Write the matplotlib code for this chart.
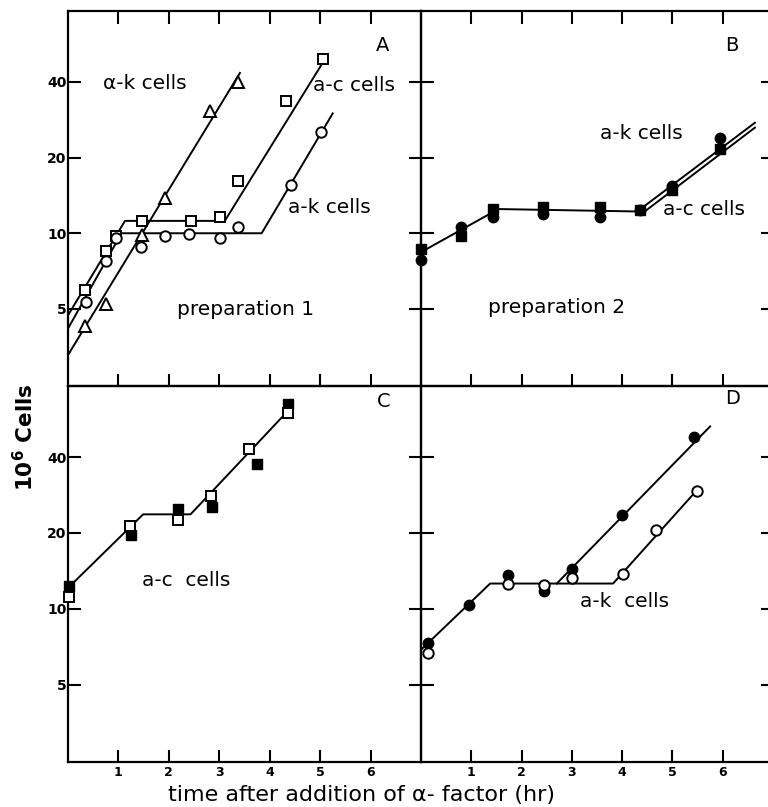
import matplotlib
matplotlib.use("Agg")
import matplotlib.pyplot as plt

# ---------------- data ----------------
# Panel A (preparation 1)
a_tri_x = [0.33, 0.76, 1.46, 1.93, 2.81, 3.38]
a_tri_y = [4.27, 5.25, 9.8, 13.8, 30.6, 39.9]
a_tri_fit_x = [0.0, 3.41]
a_tri_fit_y = [3.28, 43.4]

a_sq_x = [0.33, 0.76, 0.96, 1.46, 2.43, 3.01, 3.38, 4.32, 5.05]
a_sq_y = [5.93, 8.49, 9.73, 11.16, 11.16, 11.64, 16.07, 33.7, 49.5]
a_sq_fit_x = [0.0, 1.13, 3.11, 5.05]
a_sq_fit_y = [4.72, 11.2, 11.2, 47.6]

a_ci_x = [0.35, 0.76, 0.96, 1.44, 1.93, 2.40, 3.01, 3.38, 4.42, 5.01]
a_ci_y = [5.33, 7.74, 9.58, 8.85, 9.79, 9.94, 9.58, 10.56, 15.59, 25.3]
a_ci_fit_x = [0.0, 1.06, 3.84, 5.25]
a_ci_fit_y = [4.18, 10.0, 10.0, 29.96]

# Panel B (preparation 2)
b_x = [0.0, 0.79, 1.44, 2.42, 3.56, 4.36, 5.0, 5.95]
b_ci_y = [7.84, 10.56, 11.57, 11.93, 11.64, 12.37, 15.45, 24.0]
b_sq_y = [8.67, 9.79, 12.48, 12.68, 12.68, 12.37, 14.85, 21.58]
b_fit_x = [0.0, 1.54, 4.36]
b_fit_y = [8.41, 12.48, 12.2]
b_ak_fit_x = [4.30, 6.64]
b_ak_fit_y = [12.2, 27.5]
b_ac_fit_x = [4.40, 6.64]
b_ac_fit_y = [12.0, 26.3]

# Panel C (a-c cells)
c_open_x = [0.01, 1.23, 2.19, 2.83, 3.58, 4.37]
c_open_y = [11.1, 21.3, 22.5, 28.1, 43.0, 59.7]
c_fill_x = [0.01, 1.24, 2.19, 2.85, 3.74, 4.37]
c_fill_y = [12.3, 19.6, 24.8, 25.4, 37.4, 64.8]
c_fit_x = [0.0, 1.49, 2.43, 4.35]
c_fit_y = [12.1, 23.7, 23.7, 60.6]

# Panel D (a-k cells)
d_fill_x = [0.13, 0.95, 1.73, 2.44, 3.01, 3.99, 5.43]
d_fill_y = [7.31, 10.4, 13.6, 11.8, 14.4, 23.5, 48.2]
d_open_x = [0.13, 1.73, 2.44, 3.01, 4.01, 4.68, 5.48]
d_open_y = [6.71, 12.6, 12.4, 13.2, 13.7, 20.6, 29.3]
d_fit_x = [0.0, 1.375, 3.82, 5.47]
d_fit_y = [6.88, 12.6, 12.6, 29.3]
d_fit2_x = [2.70, 5.75]
d_fit2_y = [12.6, 52.9]

y_ticks = [5, 10, 20, 40]
y_tick_labels = ["5", "10", "20", "40"]
x_ticks = [1, 2, 3, 4, 5, 6]
x_tick_labels = ["1", "2", "3", "4", "5", "6"]

# ---------------- figure ----------------
W, H = 768, 807
fig = plt.figure(figsize=(W / 100, H / 100), dpi=100)

def rect(x0, y0, x1, y1):
    return [x0 / W, 1 - y1 / H, (x1 - x0) / W, (y1 - y0) / H]

axA = fig.add_axes(rect(68, 11, 421, 386))
axB = fig.add_axes(rect(421, 11, 773, 386))
axC = fig.add_axes(rect(68, 386, 421, 762))
axD = fig.add_axes(rect(421, 386, 773, 762))

LW_SP = 1.6
TL = 9
TW = 1.5

for ax in (axA, axB, axC, axD):
    ax.set_yscale("log")
    ax.set_xlim(0, 7)
    ax.set_ylim(2.47, 76.5)
    ax.set_yticks(y_ticks)
    ax.set_yticklabels(y_tick_labels)
    ax.minorticks_off()
    ax.set_xticks(x_ticks)
    ax.set_xticklabels(x_tick_labels)
    for s in ax.spines.values():
        s.set_linewidth(LW_SP)
    ax.patch.set_alpha(0)
    ax.tick_params(which="both", direction="in", length=TL, width=TW,
                   left=True, right=True, top=True, bottom=True,
                   labelleft=False, labelbottom=False)

for ax in (axA, axC):
    ax.tick_params(labelleft=True, pad=1, labelsize=10)
    for lab in ax.get_yticklabels():
        lab.set_fontweight("bold")
for ax in (axC, axD):
    ax.tick_params(axis="x", labelbottom=True, top=False, pad=3, labelsize=9)
    for lab in ax.get_xticklabels():
        lab.set_fontweight("bold")

line_kw = dict(color="black", lw=1.4, zorder=2)
open_kw = dict(ls="none", mfc="white", mec="black", mew=1.4, zorder=3)
fill_kw = dict(ls="none", mfc="black", mec="black", mew=1.0, zorder=3)
TFS = 14.5
LFS = 14

# Panel A
axA.plot(a_tri_fit_x, a_tri_fit_y, **line_kw)
axA.plot(a_sq_fit_x, a_sq_fit_y, **line_kw)
axA.plot(a_ci_fit_x, a_ci_fit_y, **line_kw)
axA.plot(a_tri_x, a_tri_y, marker="^", ms=8, **open_kw)
axA.plot(a_sq_x, a_sq_y, marker="s", ms=7.5, **open_kw)
axA.plot(a_ci_x, a_ci_y, marker="o", ms=7.5, **open_kw)
axA.text(0.70, 39.3, "α-k cells", fontsize=TFS, ha="left", va="center")
axA.text(4.85, 38.6, "a-c cells", fontsize=TFS, ha="left", va="center")
axA.text(4.37, 12.7, "a-k cells", fontsize=TFS, ha="left", va="center")
axA.text(2.17, 4.96, "preparation 1", fontsize=TFS, ha="left", va="center")
axA.text(6.24, 55.6, "A", fontsize=LFS, ha="center", va="center")

# Panel B
axB.plot(b_fit_x, b_fit_y, **line_kw)
axB.plot(b_ak_fit_x, b_ak_fit_y, **line_kw)
axB.plot(b_ac_fit_x, b_ac_fit_y, **line_kw)
axB.plot(b_x, b_ci_y, marker="o", ms=7.5, clip_on=False, **fill_kw)
axB.plot(b_x, b_sq_y, marker="s", ms=7.5, clip_on=False, **fill_kw)
axB.text(3.56, 24.9, "a-k cells", fontsize=TFS, ha="left", va="center")
axB.text(4.81, 12.45, "a-c cells", fontsize=TFS, ha="left", va="center")
axB.text(1.33, 5.09, "preparation 2", fontsize=TFS, ha="left", va="center")
axB.text(6.18, 55.6, "B", fontsize=LFS, ha="center", va="center")

# Panel C
axC.plot(c_fit_x, c_fit_y, **line_kw)
axC.plot(c_fill_x, c_fill_y, marker="s", ms=7.5, clip_on=False, **fill_kw)
axC.plot(c_open_x, c_open_y, marker="s", ms=7.5, clip_on=False, **open_kw)
axC.text(1.47, 12.9, "a-c  cells", fontsize=TFS, ha="left", va="center")
axC.text(6.26, 66.6, "C", fontsize=LFS, ha="center", va="center")

# Panel D
axD.plot(d_fit_x, d_fit_y, **line_kw)
axD.plot(d_fit2_x, d_fit2_y, **line_kw)
axD.plot(d_fill_x, d_fill_y, marker="o", ms=7.5, **fill_kw)
axD.plot(d_open_x, d_open_y, marker="o", ms=7.5, **open_kw)
axD.text(3.16, 10.66, "a-k  cells", fontsize=TFS, ha="left", va="center")
axD.text(6.2, 68.5, "D", fontsize=LFS, ha="center", va="center")

fig.text(25 / W, 1 - 437 / H, "10$^{\\mathbf{6}}$ Cells", rotation=90,
         fontsize=15.5, fontweight="bold", ha="center", va="center")
fig.text(362 / W, 1 - 795 / H, "time after addition of α- factor (hr)",
         fontsize=16, ha="center", va="center")

fig.savefig("out.png", dpi=100)
